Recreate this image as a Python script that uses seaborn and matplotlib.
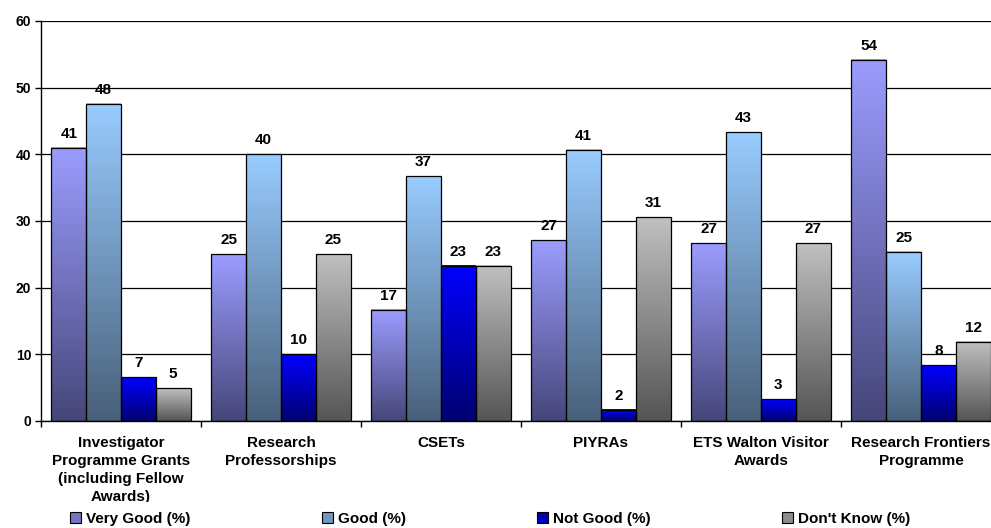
import numpy as np
import pandas as pd
import matplotlib
matplotlib.use('Agg')
import matplotlib.pyplot as plt
import seaborn as sns
from matplotlib.patches import Patch
from matplotlib.colors import to_rgb
from matplotlib.transforms import Bbox, TransformedBbox

programmes = ['Investigator\nProgramme Grants\n(including Fellow\nAwards)',
              'Research\nProfessorships', 'CSETs', 'PIYRAs',
              'ETS Walton Visitor\nAwards', 'Research Frontiers\nProgramme']
ratings = ['Very Good (%)', 'Good (%)', 'Not Good (%)', "Don't Know (%)"]

very_good = [41.0, 25.0, 16.7, 27.1, 26.7, 54.2]
good = [47.6, 40.0, 36.7, 40.7, 43.3, 25.4]
not_good = [6.6, 10.0, 23.3, 1.7, 3.3, 8.4]
dont_know = [4.9, 25.0, 23.3, 30.6, 26.7, 11.9]
series = [very_good, good, not_good, dont_know]

# gradient ends, top (light) -> bottom (dark)
top_colours = ['#9c9cff', '#99ccff', '#0000ff', '#c0c0c0']
bottom_colours = ['#46467a', '#48607a', '#000070', '#555555']
mid_colours = ['#7474c0', '#7196c0', '#0000b8', '#8c8c8c']

rows = []
for r, vals in zip(ratings, series):
    for p, v in zip(programmes, vals):
        rows.append({'programme': p, 'rating': r, 'value': v})
df = pd.DataFrame(rows)

sns.set_style('white')
plt.rcParams['font.family'] = ['Liberation Sans', 'DejaVu Sans']
plt.rcParams['font.weight'] = 'bold'
plt.rcParams['text.color'] = 'black'
plt.rcParams['xtick.color'] = 'black'
plt.rcParams['ytick.color'] = 'black'

fig = plt.figure(figsize=(9.91, 5.28), dpi=100)
ax = fig.add_axes([41 / 991, 107 / 528, 960 / 991, 400 / 528])

sns.barplot(data=df, x='programme', y='value', hue='rating', order=programmes,
            hue_order=ratings, palette=top_colours, width=0.87, errorbar=None,
            edgecolor='black', linewidth=0.9, legend=False, ax=ax)

# gradient fill for every bar
g = np.linspace(0, 1, 256)[:, None, None]
for cont, top, bot in zip(ax.containers, top_colours, bottom_colours):
    t = np.array(to_rgb(top))[None, None, :]
    b = np.array(to_rgb(bot))[None, None, :]
    img = t * (1 - g) + b * g
    for bar in cont:
        x0, y0 = bar.get_x(), bar.get_y()
        w, h = bar.get_width(), bar.get_height()
        ax.imshow(img, extent=[x0, x0 + w, y0, y0 + h], origin='upper',
                  aspect='auto', zorder=2, interpolation='bilinear')
        bar.set_facecolor('none')
        bar.set_zorder(3)

for cont, vals in zip(ax.containers, series):
    ax.bar_label(cont, labels=[f'{v:.0f}' for v in vals], padding=5,
                 fontsize=11, fontweight='bold', color='black')

ax.set_xlim(-0.5, 5.5)
ax.set_ylim(0, 60)
ax.set_yticks(range(0, 61, 10))
ax.yaxis.grid(True, color='black', linewidth=0.9)
ax.xaxis.grid(False)
ax.set_axisbelow(True)
for s in ['top', 'right']:
    ax.spines[s].set_visible(False)
for s in ['left', 'bottom']:
    ax.spines[s].set_color('black')
    ax.spines[s].set_linewidth(1)

ax.set_xticks(range(len(programmes)))
ax.set_xticklabels(programmes, fontsize=11, fontweight='bold', linespacing=1.37,
                   va='top')
ax.set_xticks(np.arange(-0.5, len(programmes), 1), minor=True)
ax.tick_params(axis='x', which='major', length=0, pad=11)
ax.tick_params(axis='x', which='minor', length=4, direction='out', color='black',
               width=1, bottom=True)
ax.tick_params(axis='y', length=4, direction='out', color='black', width=1,
               left=True, labelsize=10, pad=3)
for lab in ax.get_yticklabels():
    lab.set_fontweight('bold')
ax.set_xlabel('')
ax.set_ylabel('')

# category label area is cut just above the legend
clip = TransformedBbox(Bbox([[0, 26 / 528], [1, 1]]), fig.transFigure)
for lab in ax.get_xticklabels():
    lab.set_clip_box(clip)
    lab.set_clip_on(True)

handles = [Patch(facecolor=c, edgecolor='black', linewidth=0.8) for c in mid_colours]
fig.legend(handles, ratings, loc='center', bbox_to_anchor=(490 / 991, 1 - 519 / 528),
           ncol=4, frameon=False, handlelength=0.75, handleheight=0.75,
           handletextpad=0.3, columnspacing=8.6, borderpad=0.2,
           prop={'size': 11, 'weight': 'bold'})

fig.savefig('out.png', dpi=100)
